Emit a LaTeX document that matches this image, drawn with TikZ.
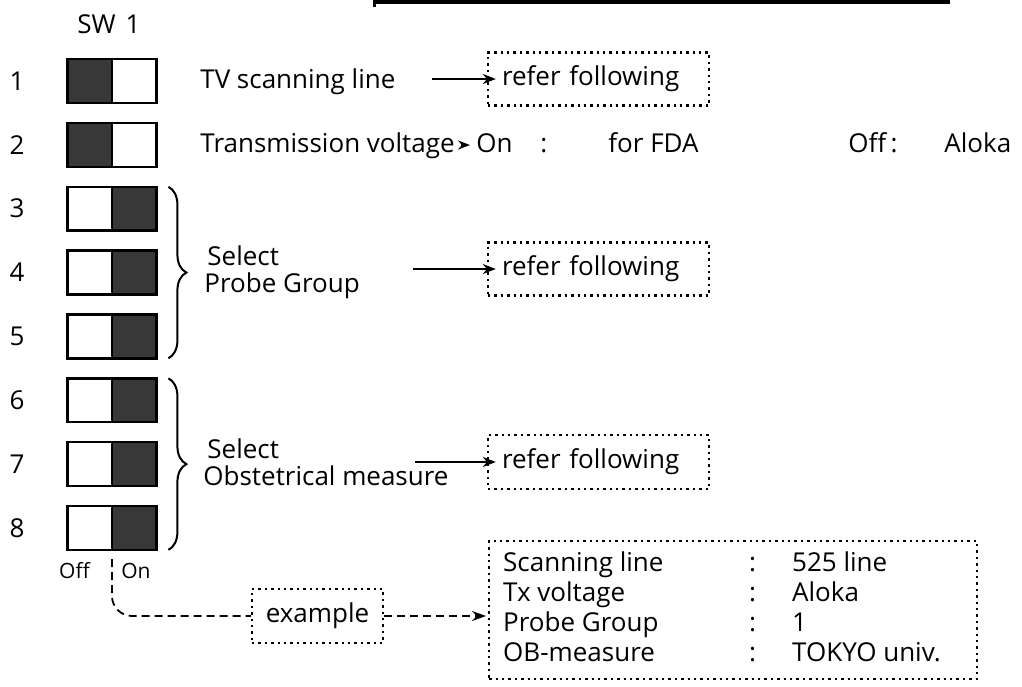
\documentclass[tikz,border=0pt]{standalone}
\usepackage{fontspec}
\setmainfont{Open Sans}
\usetikzlibrary{arrows.meta,decorations.pathreplacing}
\newcommand\myfs{\fontsize{13}{15}\selectfont}
\newcommand\mysmallfs{\fontsize{10.5}{12}\selectfont}
\begin{document}
\begin{tikzpicture}[x=0.5pt,y=-0.5pt,
  txt/.style={font=\myfs, inner sep=0pt},
  small/.style={font=\mysmallfs, inner sep=0pt},
  swbox/.style={minimum width=44pt, minimum height=21.5pt, inner sep=0pt},
  swline/.style={line width=1.2pt},
  shade/.style={fill=black!78},
  dotbox/.style={draw, line width=1.2pt, dash pattern=on 1.2pt off 2pt, inner sep=0pt, font=\myfs},
  referbox/.style={dotbox, text width=96.5pt, align=left, inner xsep=7pt, minimum height=26.5pt},
  conn/.style={line width=0.9pt, -{Stealth[length=6.5pt,width=5pt]}},
  headonly/.style={line width=0.9pt, -{Stealth[length=6pt,width=4.5pt]}},
  dline/.style={line width=0.9pt, dash pattern=on 4pt off 2.5pt},
  dconn/.style={dline, -{Stealth[length=7pt,width=5pt]}},
  brc/.style={decorate, decoration={brace, amplitude=9pt, aspect=0.5}, line width=1pt}
]
\useasboundingbox (0,0) rectangle (1022,686);

% partial frame at the top (cut by the picture edge)
\fill (373,0) rectangle (950,4);
\fill (373,0) rectangle (376,7);

\node[txt] (sw) at (109,24) {SW\hspace{5pt}1};

\foreach \i in {1,...,8} {
  \pgfmathsetmacro\yc{81+63.85*(\i-1)}
  \node[txt] (n\i) at (17,\yc) {\i};
  \node[swbox] (s\i) at (112,\yc) {};
}
\foreach \i in {1,2} {
  \fill[shade] (s\i.north west) rectangle (s\i.south);
}
\foreach \i in {3,...,8} {
  \fill[shade] (s\i.north) rectangle (s\i.south east);
}
\foreach \i in {1,...,8} {
  \draw[swline] (s\i.north west) rectangle (s\i.south east);
  \draw[swline] (s\i.north) -- (s\i.south);
}

% braces
\draw[brc] ([xshift=6pt]s3.north east) -- ([xshift=6pt]s5.south east);
\draw[brc] ([xshift=6pt]s6.north east) -- ([xshift=6pt]s8.south east);

% row 1
\node[txt, anchor=base west] (t1) at (200,88) {TV scanning line};
\node[referbox] (r1) at (598.5,79) {refer following};
\coordinate (a1) at (432,79);
\draw[conn, shorten >=-4.5pt] (a1) -- (r1.west);

% row 2
\node[txt, anchor=base west] (t2) at (200,152) {Transmission voltage};
\node[txt, anchor=base west] (on) at (476,152) {On};
\node[txt, anchor=base west] (c2) at (540,152) {:};
\node[txt, anchor=base west] (fda) at (608,152) {for FDA};
\node[txt, anchor=base west] (off2) at (848,152) {Off\,:};
\node[txt, anchor=base west] (aloka) at (944,152) {Aloka};
\coordinate (h2) at ([xshift=3pt]t2.east |- 0,145);
\draw[headonly] (h2) -- ([xshift=-3pt]on.west |- h2);

% rows 3-5
\node[txt, anchor=base west] (sel1) at (207,265) {Select};
\node[txt, anchor=base west] (pg) at (204,292) {Probe Group};
\node[referbox] (r2) at (598.5,269) {refer following};
\coordinate (a2) at (413,269);
\draw[conn, shorten >=-4.5pt] (a2) -- (r2.west);

% rows 6-8
\node[txt, anchor=base west] (sel2) at (207,458) {Select};
\node[txt, anchor=base west] (ob) at (203,485) {Obstetrical measure};
\node[referbox, minimum height=27pt] (r3) at (598.5,462) {refer following};
\coordinate (a3) at (415,462);
\draw[conn, shorten >=-4.5pt] (a3) -- (r3.west);

% Off / On
\node[small] (off) at (74.5,571) {Off};
\node[small] (onl) at (136,571) {On};

% example
\node[dotbox, minimum width=65.5pt, minimum height=27pt] (ex) at (317.5,616) {example};
\coordinate (d0) at (112,559);
\draw[dline, rounded corners=10pt] (d0) -- (d0 |- ex.west) -- (ex.west);

\node[dotbox, anchor=north west, minimum width=244pt, minimum height=69pt, inner xsep=7pt] (big) at (488,540) {%
  \fontsize{13}{15}\selectfont
  \begin{tabular}{@{}p{123pt}@{}p{21.5pt}@{}p{85.5pt}@{}}
  Scanning line & : & 525 line\\
  Tx voltage & : & Aloka\\
  Probe Group & : & 1\\
  OB-measure & : & TOKYO univ.
  \end{tabular}};
\draw[dconn, shorten >=1pt] (ex.east) -- (big.west |- ex.east);
\end{tikzpicture}
\end{document}
